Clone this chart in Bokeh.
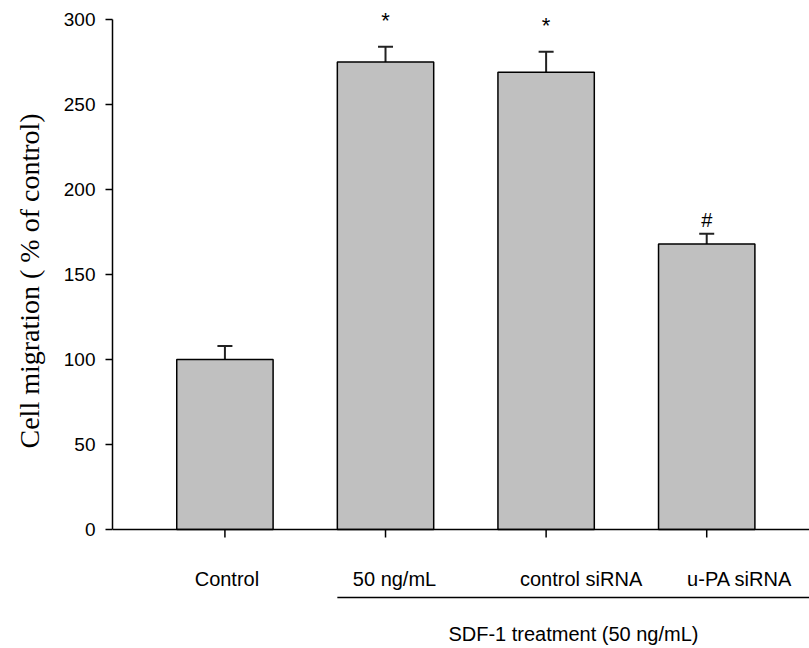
from bokeh.plotting import figure
from bokeh.models import Range1d, FixedTicker, Span, Whisker, TeeHead, ColumnDataSource, Title
from bokeh.core.properties import value
from bokeh.embed import file_html
from bokeh.resources import INLINE

# ---- data ----
categories = ["Control", "50 ng/mL", "control siRNA", "u-PA siRNA"]
migration = [100, 275, 269, 168]
sem = [8, 9, 12, 6]
marks = ["", "*", "*", "#"]
y_ticks = [0, 50, 100, 150, 200, 250, 300]
y_title = "Cell migration ( % of control)"
group_title = "SDF-1 treatment (50 ng/mL)"

# ---- layout constants ----
W, H = 809, 648
LEFT, TOP = 111, 19             # left border; px above the 300 line
PX_Y = 510 / 300.0              # pixels per y unit
Y_AXIS_MAX = 300
Y_TOP = Y_AXIS_MAX + TOP / PX_Y
Y_MIN = Y_TOP - H / PX_Y
X_START, X_END = 0.3, 4.64
BAR_W = 0.6
TICK_PX = 8
LABEL_PX = 49                   # label centre below axis
LABEL_DX = [2, 9, 35, 33]       # label shift (px) relative to tick
UNDER_PX = 68                   # group line below axis
GROUP_PX = 36                   # group title below group line
SANS = "Liberation Sans"
SERIF = "Liberation Serif"

xs = [i + 1 for i in range(len(categories))]

p = figure(width=W, height=H, output_backend="svg", toolbar_location=None,
           x_range=Range1d(X_START, X_END), y_range=Range1d(Y_MIN, Y_TOP),
           x_axis_location=None, min_border_left=LEFT, min_border_right=0,
           min_border_top=0, min_border_bottom=0)
p.outline_line_color = None
p.grid.visible = False
p.background_fill_color = "white"
p.border_fill_color = "white"

# y axis
ya = p.yaxis[0]
ya.bounds = (0, Y_AXIS_MAX)
ya.ticker = FixedTicker(ticks=y_ticks)
ya.major_tick_out = 7
ya.major_tick_in = 0
ya.minor_tick_out = 0
ya.minor_tick_in = 0
ya.axis_line_width = 1.5
ya.axis_line_color = "black"
ya.major_tick_line_width = 1.5
ya.major_tick_line_color = "black"
ya.major_label_standoff = 10
ya.major_label_text_font = SANS
ya.major_label_text_font_size = "19px"
ya.major_label_text_color = "black"

# y title, placed along the 0..300 part of the axis
p.add_layout(Title(text=y_title, align="left", offset=200, vertical_align="top",
                   standoff=27, text_font=SERIF, text_font_size="28px",
                   text_font_style="normal", text_color="black"), "left")

# bars
src = ColumnDataSource(dict(
    x=xs, top=migration,
    upper=[m + e for m, e in zip(migration, sem)],
    label=categories, dx=LABEL_DX))
p.vbar(x="x", top="top", bottom=0, width=BAR_W, source=src,
       fill_color="#c0c0c0", line_color="black", line_width=1.5)

# error bars (upper only)
p.add_layout(Whisker(source=src, base="x", lower="top", upper="upper",
                     dimension="height", line_color="#222222", line_width=2,
                     upper_head=TeeHead(size=15, line_color="#222222", line_width=2),
                     lower_head=None))

# x axis line, ticks and labels
p.add_layout(Span(location=0, dimension="width", line_color="black", line_width=1.5))
p.segment(x0="x", y0=0, x1="x", y1=-TICK_PX / PX_Y, source=src,
          line_color="black", line_width=1.5)
p.text(x="x", y=0, text="label", x_offset="dx", y_offset=LABEL_PX, source=src,
       text_align="center", text_baseline="middle",
       text_font=value(SANS), text_font_size="20px", text_color="black")

# group line and title
gx0 = xs[1] - BAR_W / 2
gy = -UNDER_PX / PX_Y
p.segment(x0=[gx0], y0=[gy], x1=[X_END], y1=[gy], line_color="black", line_width=1.5)
p.text(x=[(gx0 + X_END) / 2], y=[gy], text=[group_title], y_offset=GROUP_PX,
       text_align="center", text_baseline="middle",
       text_font=value(SANS), text_font_size="20px", text_color="black")

# significance marks
star = [i for i, m in enumerate(marks) if m == "*"]
hashm = [i for i, m in enumerate(marks) if m == "#"]
p.text(x=[xs[i] for i in star], y=[migration[i] + sem[i] for i in star],
       text=[marks[i] for i in star], y_offset=-26,
       text_align="center", text_baseline="alphabetic",
       text_font=value(SANS), text_font_size="22px", text_color="black")
p.text(x=[xs[i] for i in hashm], y=[migration[i] + sem[i] for i in hashm],
       text=[marks[i] for i in hashm], y_offset=-14,
       text_align="center", text_baseline="alphabetic",
       text_font=value(SANS), text_font_size="20px", text_color="black")

open("out.html", "w").write(file_html(p, INLINE))
